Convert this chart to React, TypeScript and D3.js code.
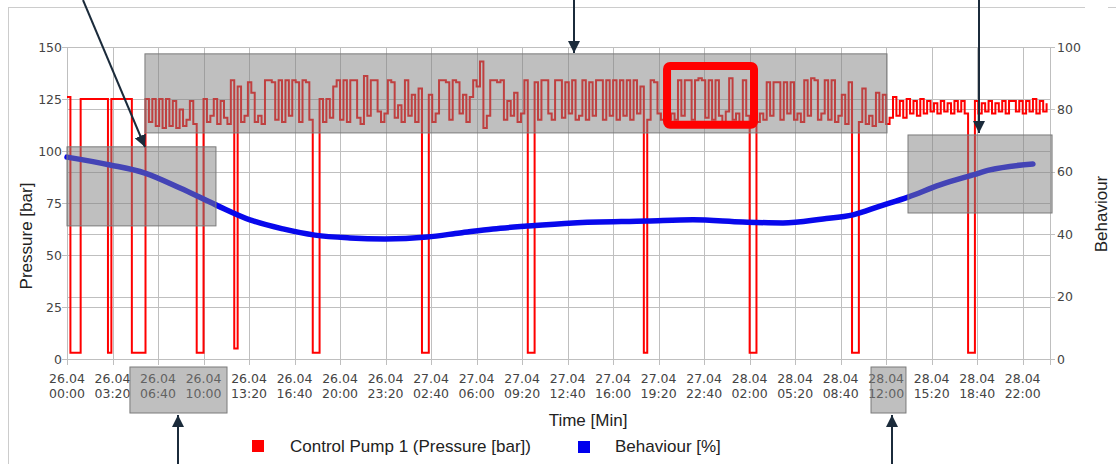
import React from "react";
import * as d3 from "d3";

const xTickLabels = [
  "26.04 00:00", "26.04 03:20", "26.04 06:40", "26.04 10:00", "26.04 13:20", "26.04 16:40",
  "26.04 20:00", "26.04 23:20", "27.04 02:40", "27.04 06:00", "27.04 09:20", "27.04 12:40",
  "27.04 16:00", "27.04 19:20", "27.04 22:40", "28.04 02:00", "28.04 05:20", "28.04 08:40",
  "28.04 12:00", "28.04 15:20", "28.04 18:40", "28.04 22:00",
];
const pressureTicks = [0, 25, 50, 75, 100, 125, 150];
const behaviourTicks = [0, 20, 40, 60, 80, 100];

// Control Pump 1 pressure [bar], one reading every 0.25 h from 26.04 00:00
const pressureStepHours = 0.25;
const pressureValues = [
  126, 3, 3, 3, 125, 125, 125, 125, 125, 125, 125, 125, 3, 125, 125, 125, 125, 125, 125, 3, 3, 3, 3,
  125, 114, 125, 112, 125, 111, 125, 112, 124, 111,
  120, 112, 115, 124, 113, 3, 3, 125, 114, 117,
  125, 113, 124, 116, 113, 134, 5, 131, 114, 117,
  133, 128, 114, 117, 113, 134, 134, 133, 115, 134,
  114, 134, 117, 134, 133, 114, 134, 133, 115, 3,
  3, 125, 114, 125, 116, 131, 134, 115, 134, 114,
  134, 134, 116, 113, 136, 117, 134, 134, 119, 114,
  118, 134, 133, 116, 122, 114, 134, 117, 127, 114,
  130, 3, 3, 127, 114, 118, 134, 134, 133, 115,
  134, 133, 118, 127, 114, 126, 134, 131, 143, 111,
  117, 134, 134, 133, 134, 115, 124, 117, 128, 114,
  118, 134, 3, 3, 133, 115, 134, 134, 118, 115,
  134, 134, 116, 133, 118, 134, 115, 117, 134, 115,
  133, 117, 134, 134, 115, 134, 117, 134, 115, 134,
  117, 134, 115, 134, 118, 131, 3, 115, 134, 133,
  118, 115, 119, 115, 118, 115, 134, 117, 134, 134,
  115, 134, 135, 134, 116, 134, 115, 134, 117, 114,
  119, 135, 115, 118, 114, 134, 117, 3, 3, 114,
  118, 115, 133, 117, 133, 133, 115, 133, 118, 133,
  115, 118, 114, 134, 117, 135, 134, 115, 118, 134,
  115, 134, 114, 117, 127, 113, 133, 3, 3, 114,
  130, 113, 117, 112, 128, 114, 127, 113,
  116, 126, 117, 124, 116, 125, 118, 124, 117, 125,
  118, 124, 119, 123, 118, 124, 119, 123, 118, 124,
  119, 124, 118, 3, 3, 124, 118, 123, 119, 124,
  118, 123, 119, 124, 118, 124, 124, 119, 124, 118,
  124, 119, 125, 118, 124, 119, 123,
];

// Behaviour [%]
const behaviourHours = [0, 3.15, 5.71, 8.28, 10.9, 13.4, 15.82, 18.16, 20.73, 23.29, 26.37, 28.78, 31.2, 33.7, 37.07, 42.5, 45.85, 49.5, 52.44, 55.37, 57.57, 59.55, 61.6, 63.94, 66.36, 67.6, 70.75];
const behaviourValues = [64.7, 62.2, 59.6, 54.8, 49.4, 44.6, 41.7, 39.7, 38.8, 38.5, 39.1, 40.4, 41.7, 42.6, 43.6, 44.2, 44.6, 43.9, 43.6, 44.9, 46.2, 49.0, 51.9, 55.8, 59.0, 60.6, 62.5];

// Highlight boxes in data units: [startHour, endHour, topBar, bottomBar]
const plotBoxes = [
  [5.71, 60.06, 146.7, 108.7],
  [0, 10.91, 102, 64],
  [61.6, 72.15, 107.7, 70.2],
];
const redFrame = [43.95, 50.32, 140.9, 112.6];
// Boxes over the tick labels: [startHour, endHour]
const tickBoxes = [
  [4.61, 11.72],
  [58.89, 61.45],
];

function parseHours(s: string) {
  const [d, t] = s.split(" ");
  const day = +d.split(".")[0];
  const [hh, mm] = t.split(":").map(Number);
  return (day - 26) * 24 + hh + mm / 60;
}

export default function App() {
  const W = 1116, H = 464;
  const x = d3.scaleLinear().domain([0, 72]).range([67, 1050]);
  const yP = d3.scaleLinear().domain([0, 150]).range([359, 47]);
  const yB = d3.scaleLinear().domain([0, 100]).range([359, 47]);

  const pPts: [number, number][] = pressureValues.map((v, i) => [i * pressureStepHours, v]);
  const bPts: [number, number][] = behaviourHours.map((h, i) => [h, behaviourValues[i]]);
  const pLine = d3.line<[number, number]>().x(d => x(d[0])).y(d => yP(d[1])).curve(d3.curveStepAfter);
  const bLine = d3.line<[number, number]>().x(d => x(d[0])).y(d => yB(d[1])).curve(d3.curveMonotoneX);

  const tickFont = "DejaVu Sans, Verdana, sans-serif";
  const titleFont = "Liberation Sans, Arial, sans-serif";
  const arrowColor = "#1b2b3b";
  const gridColor = "#bfbfbf";
  const overlay = "rgba(128,128,128,0.5)";

  const arrows = [
    [83, 0, 145, 147],
    [574, 0, 574, 53],
    [979, 0, 979, 133],
    [178, 464, 178, 415],
    [892, 464, 892, 415],
  ];

  return (
    <svg width={W} height={H} style={{ position: "absolute", left: 0, top: 0, background: "#fff" }}>
      <defs>
        <marker id="ah" viewBox="0 0 10 10" refX="10" refY="5" markerWidth="12" markerHeight="12"
          markerUnits="userSpaceOnUse" orient="auto">
          <path d="M0,0 L10,5 L0,10 z" fill={arrowColor} />
        </marker>
      </defs>
      <rect x={0} y={0} width={W} height={H} fill="#fff" />
      {/* outer frame */}
      <line x1={8} y1={7.5} x2={1085} y2={7.5} stroke="#cccccc" />
      <line x1={8.5} y1={7} x2={8.5} y2={H} stroke="#cccccc" />
      <line x1={1108} y1={7.5} x2={1116} y2={7.5} stroke="#cccccc" />

      {/* grid */}
      {xTickLabels.map((s, i) => {
        const px = Math.round(x(parseHours(s))) + 0.5;
        return <line key={"vx" + i} x1={px} x2={px} y1={47} y2={365} stroke={gridColor} />;
      })}
      <line x1={1050.5} x2={1050.5} y1={47} y2={365} stroke={gridColor} />
      {pressureTicks.map(t => {
        const py = Math.round(yP(t)) + 0.5;
        return <line key={"gp" + t} x1={62} x2={1050} y1={py} y2={py} stroke={gridColor} />;
      })}
      {behaviourTicks.map(t => {
        const py = Math.round(yB(t)) + 0.5;
        return <line key={"gb" + t} x1={67} x2={1055} y1={py} y2={py} stroke={gridColor} />;
      })}

      {/* series */}
      <path d={pLine(pPts) || ""} fill="none" stroke="#ff0000" strokeWidth={2} />
      <path d={bLine(bPts) || ""} fill="none" stroke="#0808ec" strokeWidth={5.5} strokeLinecap="round" />

      {/* axis labels */}
      {pressureTicks.map(t => (
        <text key={"lp" + t} x={62} y={yP(t)} dy="0.36em" textAnchor="end" fontFamily={tickFont}
          fontSize={12.5} fill="#444">{t}</text>
      ))}
      {behaviourTicks.map(t => (
        <text key={"lb" + t} x={1057} y={yB(t)} dy="0.36em" textAnchor="start" fontFamily={tickFont}
          fontSize={12.5} fill="#444">{t}</text>
      ))}
      {xTickLabels.map((s, i) => {
        const [d, t] = s.split(" ");
        const px = x(parseHours(s));
        return (
          <g key={"xl" + i} fontFamily={tickFont} fontSize={12.5} fill="#444" textAnchor="middle">
            <text x={px} y={383}>{d}</text>
            <text x={px} y={398}>{t}</text>
          </g>
        );
      })}
      <text x={588} y={426} textAnchor="middle" fontFamily={titleFont} fontSize={17} fill="#222">Time [Min]</text>
      <text transform="translate(32,236) rotate(-90)" textAnchor="middle" fontFamily={titleFont} fontSize={17} fill="#222">Pressure [bar]</text>
      <text transform="translate(1107,214) rotate(-90)" textAnchor="middle" fontFamily={titleFont} fontSize={17} fill="#222">Behaviour</text>

      {/* legend */}
      <rect x={252} y={440} width={12} height={12} fill="#ff0000" />
      <text x={290} y={452} fontFamily={titleFont} fontSize={17} fill="#222">Control Pump 1 (Pressure [bar])</text>
      <rect x={578} y={441} width={12} height={12} fill="#0000ee" />
      <text x={615} y={452} fontFamily={titleFont} fontSize={17} fill="#222">Behaviour [%]</text>

      {/* highlight overlays */}
      {plotBoxes.map((b, i) => (
        <rect key={"pb" + i} x={x(b[0])} y={yP(b[2])} width={x(b[1]) - x(b[0])} height={yP(b[3]) - yP(b[2])}
          fill={overlay} stroke="#7a7a7a" strokeWidth={1} />
      ))}
      {tickBoxes.map((b, i) => (
        <rect key={"tb" + i} x={x(b[0])} y={367} width={x(b[1]) - x(b[0])} height={46}
          fill={overlay} stroke="#7a7a7a" strokeWidth={1} />
      ))}
      <rect x={x(redFrame[0])} y={yP(redFrame[2])} width={x(redFrame[1]) - x(redFrame[0])}
        height={yP(redFrame[3]) - yP(redFrame[2])} rx={3} fill="none" stroke="#ff0000" strokeWidth={8} />

      {/* arrows */}
      {arrows.map((a, i) => (
        <line key={"ar" + i} x1={a[0]} y1={a[1]} x2={a[2]} y2={a[3]} stroke={arrowColor} strokeWidth={2}
          markerEnd="url(#ah)" />
      ))}
    </svg>
  );
}
